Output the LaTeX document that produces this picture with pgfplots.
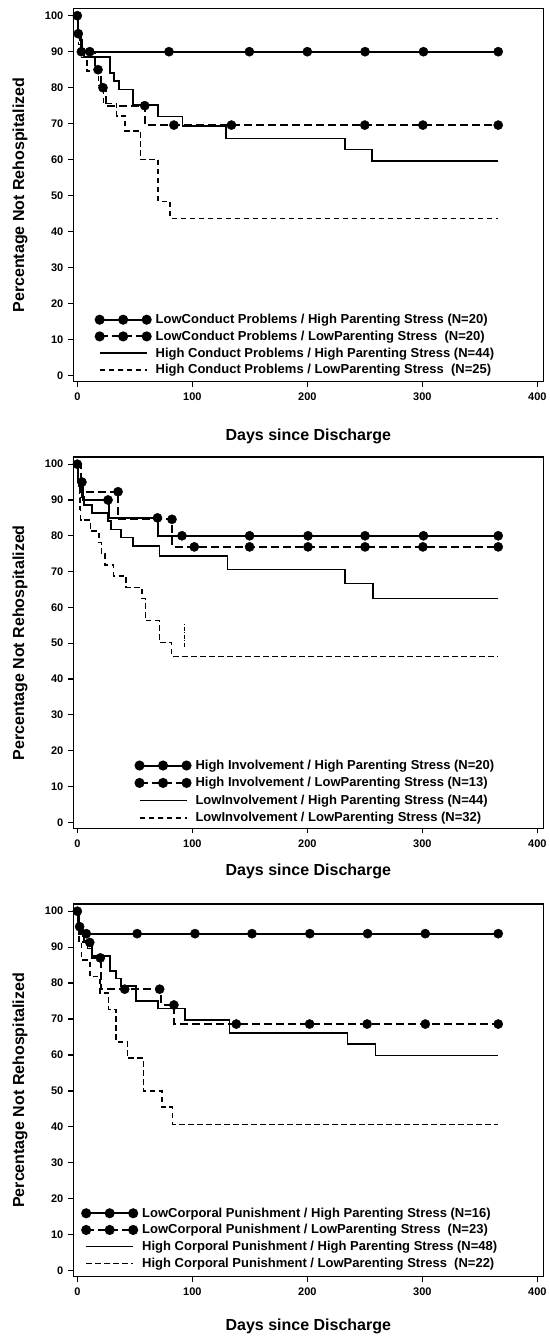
\documentclass[border=0pt]{standalone}
\usepackage{fontspec}
\setmainfont{Liberation Sans}
\usepackage{pgfplots}
\pgfplotsset{compat=1.18}

\pgfplotsset{
  km/.style={
    scale only axis,
    width=470pt,
    xmin=-3.5, xmax=405.2,
    ymin=-1.7, ymax=102,
    xtick={0,100,200,300,400},
    ytick={0,10,...,100},
    tick align=outside,
    xtick pos=left, ytick pos=left,
    major tick length=5pt,
    tick style={black, line width=1.2pt},
    axis line style={line width=1.4pt},
    /pgf/number format/assume math mode=true,
    tick label style={font=\fontsize{11}{12}\selectfont\bfseries},
    xticklabel shift=3pt,
    yticklabel shift=1.5pt,
    label style={font=\fontsize{16}{18}\selectfont\bfseries},
    ylabel={Percentage Not Rehospitalized},
    xlabel={Days since Discharge},
    ylabel style={at={(axis description cs:-0.1134,0.5)}, anchor=center},
    legend cell align=left,
    legend style={draw=none, fill=none, inner sep=0pt, anchor=west,
      font=\fontsize{13}{14}\selectfont\bfseries,
      nodes={inner sep=0pt, text height=10pt, text depth=2pt},
      row sep=4.7pt,
      /tikz/every odd column/.append style={column sep=5pt}},
    legend image code/.code={
      \draw[mark repeat=1,mark phase=1,#1] plot coordinates {(0pt,0pt) (23.5pt,0pt) (47pt,0pt)};
    },
  },
  s1/.style={black, line width=2pt, const plot,
    legend image post style={mark=*, mark size=4pt, mark options={solid}}},
  s2/.style={black, line width=2pt, dash pattern=on 8pt off 4pt, const plot,
    legend image post style={mark=*, mark size=4pt, mark options={solid}}},
  s3/.style={black, line width=1.6pt, const plot},
  s4/.style={black, line width=1.6pt, dash pattern=on 5.5pt off 3.5pt, const plot},
  cm/.style={only marks, mark=*, mark size=4.6pt, black, forget plot},
}

\begin{document}
\begin{tikzpicture}
\path (0pt,0pt) rectangle (549pt,-1339pt);

% ---------- A ----------
\begin{axis}[km, at={(73.3pt,-8.5pt)}, anchor=north west, height=373.2pt,
  xlabel style={at={(axis description cs:0.5,-0.1455)}, anchor=center},
  legend style={at={(axis description cs:0.0472,0.099)}}]
\addplot[s1] coordinates {(0,100) (0.5,95) (3,90) (366,90)};
\addlegendentry{LowConduct Problems / High Parenting Stress (N=20)}
\addplot[s2] coordinates {(0,100) (0.8,95) (3,90) (15,85) (21,80) (24.5,75) (58.6,69.6) (366,69.6)};
\addlegendentry{LowConduct Problems / LowParenting Stress \ (N=20)}
\addplot[s3] coordinates {(0,100) (0.5,97.7) (1,95.5) (2,93.2) (4,90.9) (6,88.6) (28.4,84.1) (31.9,81.8) (36.3,79.5) (48.2,75.2) (70.4,72) (91.6,69.3) (129.5,65.9) (232.6,62.8) (256.5,59.6) (366,59.6)};
\addlegendentry{High Conduct Problems / High Parenting Stress (N=44)}
\addplot[s4] coordinates {(0,100) (0.5,96) (1,92) (2.5,88.4) (8.2,84.6) (18.3,80.6) (22.6,75.6) (34.2,72.2) (41.5,68) (55.1,60) (70.4,48.4) (80.8,43.7) (366,43.7)};
\addlegendentry{High Conduct Problems / LowParenting Stress \ (N=25)}
\addplot[cm] coordinates {(0,100) (0.8,95) (3.5,90) (10.8,90) (79.7,90) (149.6,90) (200,90) (250.2,90) (301,90) (366,90)};
\addplot[cm] coordinates {(18,85) (22.3,80) (58.6,75) (84,69.6) (134,69.6) (250,69.6) (300.5,69.6) (366,69.6)};
\node[font=\fontsize{18}{20}\selectfont\bfseries] at (axis description cs:-0.1134,-0.0999) {A};
\end{axis}

% ---------- B ----------
\begin{axis}[km, at={(73.3pt,-457pt)}, anchor=north west, height=371.3pt,
  xlabel style={at={(axis description cs:0.5,-0.115)}, anchor=center},
  legend style={at={(axis description cs:0.132,0.0988)}, row sep=5.4pt}]
\addplot[s1] coordinates {(0,100) (0.5,95) (5,90) (27.5,85) (70.5,80) (366,80)};
\addlegendentry{High Involvement / High Parenting Stress (N=20)}
\addplot[s2] coordinates {(0,100) (3,92.3) (35.5,84.6) (82.5,76.9) (366,76.9)};
\addlegendentry{High Involvement / LowParenting Stress (N=13)}
\addplot[s3] coordinates {(0,100) (0.5,97.7) (1,95.5) (2,93.2) (4,90.9) (6,88.6) (12.5,86.4) (26.7,84.1) (29.5,81.8) (37.8,79.5) (48.4,77.1) (71.3,74.3) (130.6,70.6) (232.6,66.7) (257,62.5) (366,62.5)};
\addlegendentry{LowInvolvement / High Parenting Stress (N=44)}
\addplot[s4] coordinates {(0,100) (0.5,96.9) (1,93.8) (2,90.6) (2.5,87.5) (2.8,84.4) (11.3,81.3) (18.8,78.1) (21,75) (24,71.9) (31.6,68.8) (42.4,65.6) (56.1,62.5) (59.2,56.3) (71.3,50.2) (81.9,46.3) (366,46.3)};
\addlegendentry{LowInvolvement / LowParenting Stress (N=32)}
\addplot[black, line width=0.9pt, dash pattern=on 4pt off 1.5pt on 1pt off 1.5pt, forget plot] coordinates {(93.5,49) (93.5,55.5)};
\addplot[cm] coordinates {(0,100) (4,95) (26.7,90) (69.7,85) (91,80) (149.8,80) (200.6,80) (250.2,80) (301,80) (366,80)};
\addplot[cm] coordinates {(35.4,92.3) (82.3,84.6) (101.7,76.9) (149.8,76.9) (200.6,76.9) (250.2,76.9) (300.5,76.9) (366,76.9)};
\node[font=\fontsize{18}{20}\selectfont\bfseries] at (axis description cs:-0.1134,-0.0961) {B};
\end{axis}

% ---------- C ----------
\begin{axis}[km, at={(73.3pt,-904pt)}, anchor=north west, height=372.7pt,
  xlabel style={at={(axis description cs:0.5,-0.1336)}, anchor=center},
  legend style={at={(axis description cs:0.0185,0.103)}}]
\addplot[s1] coordinates {(0,100) (1.5,93.75) (366,93.75)};
\addlegendentry{LowCorporal Punishment / High Parenting Stress (N=16)}
\addplot[s2] coordinates {(0,100) (1,95.7) (5,91.3) (13,87) (20.5,78.3) (73,73.9) (84.5,68.6) (366,68.6)};
\addlegendentry{LowCorporal Punishment / LowParenting Stress \ (N=23)}
\addplot[s3] coordinates {(0,100) (0.5,97.9) (1,95.8) (3,93.75) (6,91.7) (9,89.6) (13,87.5) (28.4,83.3) (33.7,81.3) (38,79.2) (51,75) (70.4,72.9) (93.7,69.8) (132.2,66.1) (235,63.1) (259.4,59.8) (366,59.8)};
\addlegendentry{High Corporal Punishment / High Parenting Stress (N=48)}
\addplot[s4] coordinates {(0,100) (0.8,95.5) (1.5,90.9) (3.8,86.4) (11,81.8) (19.7,77.3) (27,72.7) (33.7,63.6) (43.5,59.1) (57.4,50) (73.4,45.5) (82.8,40.7) (366,40.7)};
\addlegendentry{High Corporal Punishment / LowParenting Stress \ (N=22)}
\addplot[cm] coordinates {(0,100) (7.8,93.75) (52,93.75) (102.3,93.75) (151.9,93.75) (202.2,93.75) (252.4,93.75) (302.6,93.75) (366,93.75)};
\addplot[cm] coordinates {(2,95.7) (10.8,91.3) (20,87) (41.2,78.3) (71.6,78.3) (84,73.9) (138.2,68.6) (202,68.6) (252,68.6) (302.6,68.6) (366,68.6)};
\node[font=\fontsize{18}{20}\selectfont\bfseries] at (axis description cs:-0.1134,-0.0733) {C};
\end{axis}
\end{tikzpicture}
\end{document}
